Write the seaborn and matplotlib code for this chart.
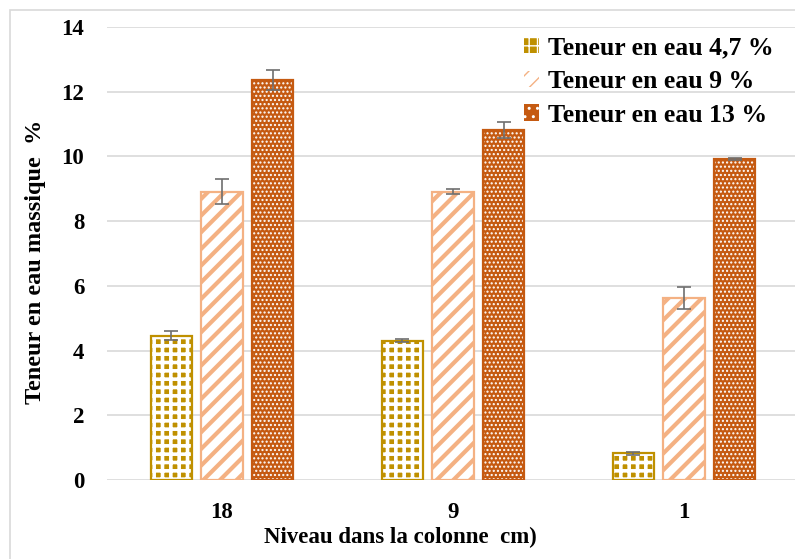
import matplotlib
matplotlib.use("Agg")
import matplotlib.pyplot as plt
from matplotlib.patches import Rectangle, Patch
import seaborn as sns
import pandas as pd

# Water content measured at three levels of the column
levels = ["18", "9", "1"]
series = ["Teneur en eau 4,7 %", "Teneur en eau 9 %", "Teneur en eau 13 %"]
w47 = [4.46, 4.31, 0.82]
w9 = [8.91, 8.91, 5.63]
w13 = [12.36, 10.82, 9.91]
err47 = [0.14, 0.04, 0.04]
err9 = [0.39, 0.08, 0.34]
err13 = [0.32, 0.25, 0.03]

colors = ["#BF9000", "#F4B183", "#C55A11"]
faces = ["#BF9000", "white", "#C55A11"]
hatch_colors = ["white", "#F4B183", "white"]
hatches = ["++", "//", "...."]
hatch_widths = [2.6, 3.0, 1.0]

rows = []
for s, vals, errs in zip(series, [w47, w9, w13], [err47, err9, err13]):
    for lev, v, e in zip(levels, vals, errs):
        rows.append({"level": lev, "series": s, "value": v, "err": e})
df = pd.DataFrame(rows)

sns.set_theme(style="white")
plt.rcParams["font.family"] = ["Liberation Serif", "DejaVu Serif"]
plt.rcParams["font.weight"] = "bold"
plt.rcParams["text.color"] = "black"


def style_hatch(patch, lw):
    if hasattr(patch, "set_hatch_linewidth"):
        patch.set_hatch_linewidth(lw)
    else:
        patch._hatch_linewidth = lw


fig = plt.figure(figsize=(7.95, 5.59), dpi=100)
ax = fig.add_axes([106.5 / 795, 79 / 559, (795 - 106.5) / 795, 453 / 559])

sns.barplot(data=df, x="level", y="value", hue="series", order=levels,
            hue_order=series, palette=colors, width=0.66, gap=0.19,
            errorbar=None, legend=False, ax=ax)

legend_handles = []
for cont, s, fc, hc, col, h, hw in zip(ax.containers, series, faces, hatch_colors,
                                        colors, hatches, hatch_widths):
    sub = df[df["series"] == s].set_index("level").loc[levels]
    xs = []
    for p in cont.patches:
        p.set_facecolor(fc)
        p.set_edgecolor(hc)
        p.set_hatch(h)
        p.set_linewidth(0)
        style_hatch(p, hw)
        ax.add_patch(Rectangle(p.get_xy(), p.get_width(), p.get_height(),
                               fill=False, edgecolor=col, linewidth=1.6,
                               zorder=p.get_zorder() + 0.1))
        xs.append(p.get_x() + p.get_width() / 2)
    ax.errorbar(xs, sub["value"].values, yerr=sub["err"].values, fmt="none",
                ecolor="#6E6E6E", elinewidth=1.2, capsize=4.7, capthick=1.2, zorder=5)
    hp = Patch(facecolor=fc, edgecolor=hc, hatch=h[0] * 2, linewidth=0)
    style_hatch(hp, hw * 0.8)
    legend_handles.append(hp)

ax.set_ylim(0, 14)
ax.set_xlim(-0.5, 2.5 - 4.5 / 231)
ax.set_yticks(range(0, 15, 2))
ax.yaxis.grid(True, color="#D9D9D9", linewidth=1.2)
ax.set_axisbelow(True)
for sp in ax.spines.values():
    sp.set_visible(False)
ax.tick_params(axis="both", length=0, labelsize=16.5, colors="black")
ax.tick_params(axis="y", pad=16)
ax.tick_params(axis="x", pad=16)
for lab in ax.get_xticklabels() + ax.get_yticklabels():
    lab.set_fontweight("bold")

ax.set_xlabel("Niveau dans la colonne  cm)", fontsize=16.5, fontweight="bold",
              color="black")
ax.xaxis.set_label_coords((400 - 106.5) / 688.5, -57 / 453)
ax.xaxis.label.set_va("center")
ax.set_ylabel("Teneur en eau massique  %", fontsize=17.5, fontweight="bold",
              color="black")
ax.yaxis.set_label_coords(-(106.5 - 36) / 688.5, (480 - 262) / 453)
ax.yaxis.label.set_va("center")

leg = fig.legend(handles=legend_handles, labels=series, loc="upper left",
                 bbox_to_anchor=(524 / 795, 1 - 36 / 559), frameon=False,
                 fontsize=18.5, handlelength=0.6, handleheight=0.6,
                 handletextpad=0.35, labelspacing=0.42, borderaxespad=0,
                 borderpad=0)
for t in leg.get_texts():
    t.set_fontweight("bold")
    t.set_color("black")

# chart area frame
fig.patches.append(Rectangle((10 / 795, -0.1), 1.2, (559 - 10) / 559 + 0.1,
                             transform=fig.transFigure, fill=False,
                             edgecolor="#D9D9D9", linewidth=1.2))

fig.savefig("out.png", dpi=100)
